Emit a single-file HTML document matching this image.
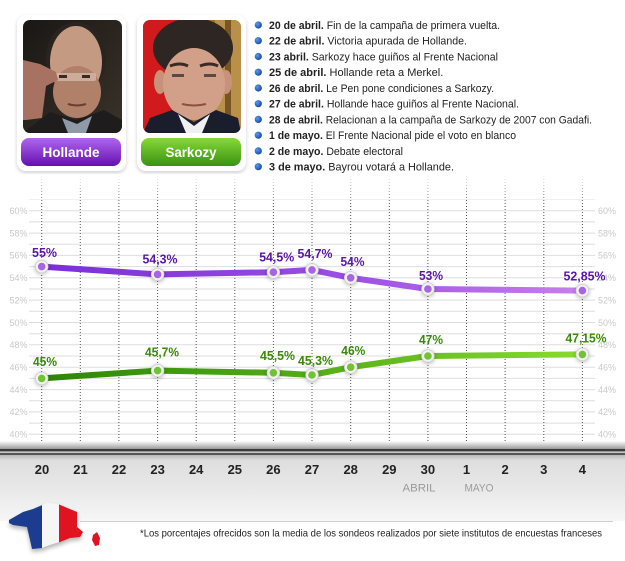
<!DOCTYPE html>
<html><head><meta charset="utf-8"><style>
html,body{margin:0;padding:0;background:#fff;}
svg{display:block;}
</style></head><body>
<svg width="625" height="561" viewBox="0 0 625 561" xmlns="http://www.w3.org/2000/svg" font-family="'Liberation Sans', sans-serif">
<defs>
<linearGradient id="gP" x1="0" x2="1" y1="0" y2="0"><stop offset="0" stop-color="#7a2fd6"/><stop offset="0.55" stop-color="#9a4ee2"/><stop offset="1" stop-color="#c77fec"/></linearGradient>
<linearGradient id="gG" x1="0" x2="1" y1="0" y2="0"><stop offset="0" stop-color="#2c8606"/><stop offset="0.5" stop-color="#55ad18"/><stop offset="1" stop-color="#8ada2e"/></linearGradient>
<linearGradient id="bP" x1="0" x2="0" y1="0" y2="1"><stop offset="0" stop-color="#b066ee"/><stop offset="1" stop-color="#6410b0"/></linearGradient>
<linearGradient id="bG" x1="0" x2="0" y1="0" y2="1"><stop offset="0" stop-color="#86d83a"/><stop offset="1" stop-color="#3a9210"/></linearGradient>
<linearGradient id="sh" x1="0" x2="0" y1="0" y2="1"><stop offset="0" stop-color="#fff"/><stop offset="1" stop-color="#9a9a9a"/></linearGradient>
<linearGradient id="bot" x1="0" x2="0" y1="0" y2="1"><stop offset="0" stop-color="#b8b8b8"/><stop offset="0.08" stop-color="#dedede"/><stop offset="0.5" stop-color="#e8e8e8"/><stop offset="1" stop-color="#f6f6f6"/></linearGradient>
<linearGradient id="vfade" x1="0" x2="0" y1="0" y2="1"><stop offset="0" stop-color="#fff" stop-opacity="1"/><stop offset="1" stop-color="#fff" stop-opacity="0"/></linearGradient>
<radialGradient id="bul" cx="0.35" cy="0.35" r="0.7"><stop offset="0" stop-color="#5a9af0"/><stop offset="1" stop-color="#1248a8"/></radialGradient>
<linearGradient id="hbg" x1="0" x2="1" y1="0" y2="1"><stop offset="0" stop-color="#1a1714"/><stop offset="1" stop-color="#3a322a"/></linearGradient>
<clipPath id="c1"><rect x="23" y="20" width="99" height="113" rx="7"/></clipPath>
<clipPath id="c2"><rect x="143" y="20" width="98" height="113" rx="7"/></clipPath>
<clipPath id="fr"><polygon points="9,520 23,512 33,509 47,503 58,504 77,512 77,527 83,532 80,537 70,538 60,542 50,545 42,548 32,549 30,540 27,527 13,525 9,523"/></clipPath>
<filter id="blur" x="-20%" y="-20%" width="140%" height="140%"><feGaussianBlur stdDeviation="2"/></filter>
</defs>

<!-- cards -->
<rect x="17" y="17" width="109" height="156" rx="9" fill="#000" opacity="0.18" filter="url(#blur)"/>
<rect x="17" y="15" width="109" height="156" rx="9" fill="#fff"/>
<rect x="137" y="17" width="109" height="156" rx="9" fill="#000" opacity="0.18" filter="url(#blur)"/>
<rect x="137" y="15" width="109" height="156" rx="9" fill="#fff"/>

<!-- Hollande photo -->
<g clip-path="url(#c1)">
<rect x="23" y="20" width="99" height="113" fill="url(#hbg)"/>
<ellipse cx="76" cy="58" rx="30" ry="36" fill="#2a2420"/>
<ellipse cx="76" cy="62" rx="26" ry="36" fill="#c49a82"/>
<ellipse cx="77" cy="92" rx="24" ry="26" fill="#b08068"/>
<rect x="56" y="73" width="40" height="8" rx="2" fill="#d8c0b0" opacity="0.7"/>
<rect x="59" y="75" width="8" height="3" fill="#3a2a22"/>
<rect x="82" y="75" width="8" height="3" fill="#3a2a22"/>
<path d="M68 104 q9 3 18 0" stroke="#6a3e30" stroke-width="2" fill="none"/>
<polygon points="23,60 40,64 56,72 58,80 46,86 42,118 26,120 23,120" fill="#a87262"/>
<polygon points="23,133 50,112 76,120 104,110 122,120 122,133" fill="#1e1c1c"/>
<polygon points="62,118 77,124 92,116 86,133 68,133" fill="#8e9aa8"/>
</g>

<!-- Sarkozy photo -->
<g clip-path="url(#c2)">
<rect x="143" y="20" width="98" height="113" fill="#9a7030"/>
<rect x="143" y="20" width="40" height="113" fill="#d01a1c"/>
<rect x="215" y="20" width="26" height="113" fill="#b8904a"/>
<rect x="225" y="20" width="6" height="113" fill="#7a5524"/>
<ellipse cx="193" cy="48" rx="40" ry="30" fill="#2e2622"/>
<ellipse cx="160" cy="82" rx="6" ry="12" fill="#c8927a"/>
<ellipse cx="226" cy="82" rx="6" ry="12" fill="#c8927a"/>
<ellipse cx="194" cy="84" rx="31" ry="36" fill="#d2a088"/>
<path d="M170 66 q10 -4 18 0 M200 66 q10 -4 18 0" stroke="#3a2a22" stroke-width="3" fill="none"/>
<rect x="172" y="74" width="12" height="3" fill="#5a4a44"/>
<rect x="204" y="74" width="12" height="3" fill="#5a4a44"/>
<path d="M182 104 q12 3 24 0" stroke="#8a5040" stroke-width="2" fill="none"/>
<polygon points="143,133 150,118 172,110 194,122 216,110 238,118 241,133" fill="#1a1e2c"/>
<polygon points="178,114 194,126 210,114 202,133 186,133" fill="#f0f0f0"/>
</g>

<!-- buttons -->
<rect x="21" y="138" width="100" height="28" rx="8" fill="url(#bP)"/>
<text x="71" y="157" text-anchor="middle" font-size="14" font-weight="bold" fill="#fff" textLength="57" lengthAdjust="spacingAndGlyphs">Hollande</text>
<rect x="141" y="138" width="100" height="28" rx="8" fill="url(#bG)"/>
<text x="191" y="157" text-anchor="middle" font-size="14" font-weight="bold" fill="#fff" textLength="51" lengthAdjust="spacingAndGlyphs">Sarkozy</text>

<!-- event list -->
<g font-size="11" fill="#222">
<circle cx="258.3" cy="25" r="3.6" fill="url(#bul)"/>
<text x="269" y="29" textLength="231" lengthAdjust="spacingAndGlyphs"><tspan font-weight="bold">20 de abril.</tspan> Fin de la campaña de primera vuelta.</text>
<circle cx="258.3" cy="40.7" r="3.6" fill="url(#bul)"/>
<text x="269" y="44.7" textLength="198" lengthAdjust="spacingAndGlyphs"><tspan font-weight="bold">22 de abril.</tspan> Victoria apurada de Hollande.</text>
<circle cx="258.3" cy="56.5" r="3.6" fill="url(#bul)"/>
<text x="269" y="60.5" textLength="229" lengthAdjust="spacingAndGlyphs"><tspan font-weight="bold">23 abril.</tspan> Sarkozy hace guiños al Frente Nacional</text>
<circle cx="258.3" cy="72.2" r="3.6" fill="url(#bul)"/>
<text x="269" y="76.2"><tspan font-weight="bold">25 de abril.</tspan> Hollande reta a Merkel.</text>
<circle cx="258.3" cy="88" r="3.6" fill="url(#bul)"/>
<text x="269" y="92" textLength="225" lengthAdjust="spacingAndGlyphs"><tspan font-weight="bold">26 de abril.</tspan> Le Pen pone condiciones a Sarkozy.</text>
<circle cx="258.3" cy="103.7" r="3.6" fill="url(#bul)"/>
<text x="269" y="107.7" textLength="250" lengthAdjust="spacingAndGlyphs"><tspan font-weight="bold">27 de abril.</tspan> Hollande hace guiños al Frente Nacional.</text>
<circle cx="258.3" cy="119.4" r="3.6" fill="url(#bul)"/>
<text x="269" y="123.4" textLength="323" lengthAdjust="spacingAndGlyphs"><tspan font-weight="bold">28 de abril.</tspan> Relacionan a la campaña de Sarkozy de 2007 con Gadafi.</text>
<circle cx="258.3" cy="135.2" r="3.6" fill="url(#bul)"/>
<text x="269" y="139.2" textLength="247" lengthAdjust="spacingAndGlyphs"><tspan font-weight="bold">1 de mayo.</tspan> El Frente Nacional pide el voto en blanco</text>
<circle cx="258.3" cy="150.9" r="3.6" fill="url(#bul)"/>
<text x="269" y="154.9" textLength="134" lengthAdjust="spacingAndGlyphs"><tspan font-weight="bold">2 de mayo.</tspan> Debate electoral</text>
<circle cx="258.3" cy="166.7" r="3.6" fill="url(#bul)"/>
<text x="269" y="170.7" textLength="185" lengthAdjust="spacingAndGlyphs"><tspan font-weight="bold">3 de mayo.</tspan> Bayrou votará a Hollande.</text>
</g>

<!-- horizontal gridlines -->
<g stroke="#dedede" stroke-width="1">
<line x1="29" x2="595" y1="199.5" y2="199.5" stroke="#eee"/>
<line x1="29" x2="595" y1="210.7" y2="210.7"/>
<line x1="29" x2="595" y1="221.9" y2="221.9"/>
<line x1="29" x2="595" y1="233.1" y2="233.1"/>
<line x1="29" x2="595" y1="244.2" y2="244.2"/>
<line x1="29" x2="595" y1="255.4" y2="255.4"/>
<line x1="29" x2="595" y1="266.6" y2="266.6"/>
<line x1="29" x2="595" y1="277.8" y2="277.8"/>
<line x1="29" x2="595" y1="289.0" y2="289.0"/>
<line x1="29" x2="595" y1="300.1" y2="300.1"/>
<line x1="29" x2="595" y1="311.3" y2="311.3"/>
<line x1="29" x2="595" y1="322.5" y2="322.5"/>
<line x1="29" x2="595" y1="333.7" y2="333.7"/>
<line x1="29" x2="595" y1="344.8" y2="344.8"/>
<line x1="29" x2="595" y1="356.0" y2="356.0"/>
<line x1="29" x2="595" y1="367.2" y2="367.2"/>
<line x1="29" x2="595" y1="378.4" y2="378.4"/>
<line x1="29" x2="595" y1="389.6" y2="389.6"/>
<line x1="29" x2="595" y1="400.7" y2="400.7"/>
<line x1="29" x2="595" y1="411.9" y2="411.9"/>
<line x1="29" x2="595" y1="423.1" y2="423.1"/>
<line x1="29" x2="595" y1="434.3" y2="434.3"/>
</g>

<!-- vertical dotted lines -->
<g stroke="#555" stroke-width="1" stroke-dasharray="1 2">
<line x1="41.7" x2="41.7" y1="176" y2="449"/>
<line x1="80.3" x2="80.3" y1="176" y2="449"/>
<line x1="118.9" x2="118.9" y1="176" y2="449"/>
<line x1="157.6" x2="157.6" y1="176" y2="449"/>
<line x1="196.2" x2="196.2" y1="176" y2="449"/>
<line x1="234.8" x2="234.8" y1="176" y2="449"/>
<line x1="273.4" x2="273.4" y1="176" y2="449"/>
<line x1="312.0" x2="312.0" y1="176" y2="449"/>
<line x1="350.7" x2="350.7" y1="176" y2="449"/>
<line x1="389.3" x2="389.3" y1="176" y2="449"/>
<line x1="427.9" x2="427.9" y1="176" y2="449"/>
<line x1="466.5" x2="466.5" y1="176" y2="449"/>
<line x1="505.1" x2="505.1" y1="176" y2="449"/>
<line x1="543.8" x2="543.8" y1="176" y2="449"/>
<line x1="582.4" x2="582.4" y1="176" y2="449"/>
</g>
<rect x="0" y="174" width="625" height="30" fill="url(#vfade)"/>

<!-- y labels -->
<g font-size="9" fill="#c8c8c8">
<g text-anchor="end">
<text x="27.5" y="214">60%</text><text x="27.5" y="236.4">58%</text><text x="27.5" y="258.7">56%</text>
<text x="27.5" y="281.1">54%</text><text x="27.5" y="303.4">52%</text><text x="27.5" y="325.8">50%</text>
<text x="27.5" y="348.1">48%</text><text x="27.5" y="370.5">46%</text><text x="27.5" y="392.9">44%</text>
<text x="27.5" y="415.2">42%</text><text x="27.5" y="437.6">40%</text>
</g>
<g>
<text x="598" y="214">60%</text><text x="598" y="236.4">58%</text><text x="598" y="258.7">56%</text>
<text x="598" y="281.1">54%</text><text x="598" y="303.4">52%</text><text x="598" y="325.8">50%</text>
<text x="598" y="348.1">48%</text><text x="598" y="370.5">46%</text><text x="598" y="392.9">44%</text>
<text x="598" y="415.2">42%</text><text x="598" y="437.6">40%</text>
</g>
</g>

<!-- series lines -->
<polyline points="41.7,266.6 157.6,274.4 273.4,272.2 312.0,269.9 350.7,277.8 427.9,289.0 582.4,290.6" fill="none" stroke="url(#gP)" stroke-width="6" stroke-linejoin="round"/>
<polyline points="41.7,378.4 157.6,370.6 273.4,372.8 312.0,375.0 350.7,367.2 427.9,356.0 582.4,354.4" fill="none" stroke="url(#gG)" stroke-width="6" stroke-linejoin="round"/>

<!-- markers -->
<g>
<g fill="#000" opacity="0.25" filter="url(#blur)">
<circle cx="41.7" cy="267.6" r="7"/><circle cx="157.6" cy="275.4" r="7"/><circle cx="273.4" cy="273.2" r="7"/><circle cx="312.0" cy="270.9" r="7"/><circle cx="350.7" cy="278.8" r="7"/><circle cx="427.9" cy="290.0" r="7"/><circle cx="582.4" cy="291.6" r="7"/>
<circle cx="41.7" cy="379.4" r="7"/><circle cx="157.6" cy="371.6" r="7"/><circle cx="273.4" cy="373.8" r="7"/><circle cx="312.0" cy="376.0" r="7"/><circle cx="350.7" cy="368.2" r="7"/><circle cx="427.9" cy="357.0" r="7"/><circle cx="582.4" cy="355.4" r="7"/>
</g>
<g fill="#f2f2f2" stroke="#d0d0d0" stroke-width="0.8">
<circle cx="41.7" cy="266.6" r="6.3"/><circle cx="157.6" cy="274.4" r="6.3"/><circle cx="273.4" cy="272.2" r="6.3"/><circle cx="312.0" cy="269.9" r="6.3"/><circle cx="350.7" cy="277.8" r="6.3"/><circle cx="427.9" cy="289.0" r="6.3"/><circle cx="582.4" cy="290.6" r="6.3"/>
<circle cx="41.7" cy="378.4" r="6.3"/><circle cx="157.6" cy="370.6" r="6.3"/><circle cx="273.4" cy="372.8" r="6.3"/><circle cx="312.0" cy="375.0" r="6.3"/><circle cx="350.7" cy="367.2" r="6.3"/><circle cx="427.9" cy="356.0" r="6.3"/><circle cx="582.4" cy="354.4" r="6.3"/>
</g>
<g fill="#a864e2">
<circle cx="41.7" cy="266.6" r="3.8"/><circle cx="157.6" cy="274.4" r="3.8"/><circle cx="273.4" cy="272.2" r="3.8"/><circle cx="312.0" cy="269.9" r="3.8"/><circle cx="350.7" cy="277.8" r="3.8"/><circle cx="427.9" cy="289.0" r="3.8"/><circle cx="582.4" cy="290.6" r="3.8"/>
</g>
<g fill="#72c236">
<circle cx="41.7" cy="378.4" r="3.8"/><circle cx="157.6" cy="370.6" r="3.8"/><circle cx="273.4" cy="372.8" r="3.8"/><circle cx="312.0" cy="375.0" r="3.8"/><circle cx="350.7" cy="367.2" r="3.8"/><circle cx="427.9" cy="356.0" r="3.8"/><circle cx="582.4" cy="354.4" r="3.8"/>
</g>
</g>

<!-- value labels -->
<g font-size="12.5" font-weight="bold" text-anchor="middle" fill="#5a16a6">
<text x="44.5" y="257" textLength="25" lengthAdjust="spacingAndGlyphs">55%</text>
<text x="160" y="263.5" textLength="35" lengthAdjust="spacingAndGlyphs">54,3%</text>
<text x="276.7" y="261.7" textLength="35" lengthAdjust="spacingAndGlyphs">54,5%</text>
<text x="315" y="258" textLength="35" lengthAdjust="spacingAndGlyphs">54,7%</text>
<text x="352.5" y="266" textLength="24" lengthAdjust="spacingAndGlyphs">54%</text>
<text x="431" y="280" textLength="24" lengthAdjust="spacingAndGlyphs">53%</text>
<text x="584.5" y="280.7" textLength="42" lengthAdjust="spacingAndGlyphs">52,85%</text>
</g>
<g font-size="12.5" font-weight="bold" text-anchor="middle" fill="#3a8a08">
<text x="45" y="366" textLength="24" lengthAdjust="spacingAndGlyphs">45%</text>
<text x="162" y="356.7" textLength="34" lengthAdjust="spacingAndGlyphs">45,7%</text>
<text x="277.5" y="360" textLength="35" lengthAdjust="spacingAndGlyphs">45,5%</text>
<text x="315.5" y="365" textLength="35" lengthAdjust="spacingAndGlyphs">45,3%</text>
<text x="353.3" y="355" textLength="24" lengthAdjust="spacingAndGlyphs">46%</text>
<text x="431" y="344" textLength="24" lengthAdjust="spacingAndGlyphs">47%</text>
<text x="586" y="342.7" textLength="41" lengthAdjust="spacingAndGlyphs">47,15%</text>
</g>

<!-- axis / bottom band -->
<rect x="0" y="441" width="625" height="8" fill="url(#sh)"/>
<rect x="0" y="455" width="625" height="66" fill="url(#bot)"/>
<rect x="0" y="521" width="625" height="40" fill="#fff"/>
<rect x="0" y="449" width="625" height="2.5" fill="#3a3a3a"/>
<rect x="0" y="451.5" width="625" height="1.2" fill="#f4f4f4"/>
<rect x="0" y="452.7" width="625" height="2.3" fill="#555"/>
<line x1="80" x2="613" y1="521.5" y2="521.5" stroke="#cfcfcf" stroke-width="1"/>

<g font-size="13" font-weight="bold" fill="#222" text-anchor="middle">
<text x="42" y="474">20</text><text x="80.5" y="474">21</text><text x="119" y="474">22</text>
<text x="157.6" y="474">23</text><text x="196.2" y="474">24</text><text x="234.8" y="474">25</text>
<text x="273.4" y="474">26</text><text x="312" y="474">27</text><text x="350.7" y="474">28</text>
<text x="389.3" y="474">29</text><text x="427.9" y="474">30</text><text x="466.5" y="474">1</text>
<text x="505.1" y="474">2</text><text x="543.8" y="474">3</text><text x="582.4" y="474">4</text>
</g>
<g font-size="11" fill="#9a9a9a" text-anchor="middle">
<text x="419" y="491.5" textLength="33" lengthAdjust="spacingAndGlyphs">ABRIL</text>
<text x="479" y="491.5" textLength="29" lengthAdjust="spacingAndGlyphs">MAYO</text>
</g>

<!-- France map -->
<g>
<polygon points="9,523 23,515 33,512 47,506 58,507 77,515 77,530 83,535 80,540 70,541 60,545 50,548 42,551 32,552 30,543 27,530 13,528 9,526" fill="#333" opacity="0.35" filter="url(#blur)"/>
<g clip-path="url(#fr)">
<rect x="0" y="500" width="42" height="55" fill="#1c3c90"/>
<rect x="42" y="500" width="17" height="55" fill="#f6f6f6"/>
<rect x="59" y="500" width="30" height="55" fill="#e01420"/>
<polygon points="28,540 32,549 42,548 50,545 60,542 70,538 80,537 83,532 90,540 90,555 20,555" fill="#000" opacity="0.25"/>
</g>
<path d="M93 535 L97 532 L100 538 L99 545 L95 546 L92 540 Z" fill="#e01420"/>
</g>

<!-- footnote -->
<text x="140" y="536.5" font-size="10.5" fill="#222" textLength="462" lengthAdjust="spacingAndGlyphs">*Los porcentajes ofrecidos son la media de los sondeos realizados por siete institutos de encuestas franceses</text>
</svg>
</body></html>
